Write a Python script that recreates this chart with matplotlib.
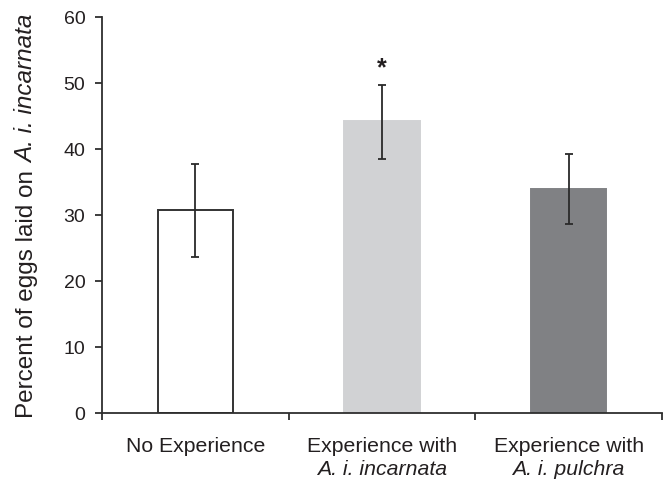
import matplotlib
matplotlib.use("Agg")
import matplotlib.pyplot as plt
import numpy as np

plt.rcParams['font.family'] = ['Liberation Sans', 'DejaVu Sans']

# Category labels: plain first line, italic taxon name on the second line
label_top = ["No Experience", "Experience with", "Experience with"]
label_bottom = ["", "A. i. incarnata", "A. i. pulchra"]
means = [30.8, 44.2, 33.9]
err_low = [23.7, 38.5, 28.7]
err_high = [37.8, 49.7, 39.2]
sig_marks = ["", "*", ""]
y_ticks = [0, 10, 20, 30, 40, 50, 60]
ylabel_plain = "Percent of eggs laid on"
ylabel_italic = "A. i. incarnata"

face_colors = ["white", "#d1d2d4", "#808184"]
edge_colors = ["#333333", "#d1d2d4", "#808184"]
text_color = "#231f20"
axis_color = "#2e2e2e"

fig = plt.figure(figsize=(6.67, 4.81), dpi=100)
ax = fig.add_axes([0.1529, 0.1393, 0.8396, 0.8233])

x = np.arange(len(means))
ax.bar(x, means, width=0.404, color=face_colors, edgecolor=edge_colors,
       linewidth=1.4, zorder=2)
yerr = np.array([np.array(means) - np.array(err_low),
                 np.array(err_high) - np.array(means)])
ax.errorbar(x, means, yerr=yerr, fmt="none", ecolor="#2a2a2a",
            elinewidth=1.3, capsize=3.2, capthick=1.3, zorder=3)

for xi, top, mark in zip(x, err_high, sig_marks):
    if mark:
        ax.text(xi, top + 1.6, mark, ha="center", va="baseline",
                fontsize=18, fontweight="bold", color=text_color)

ax.set_xlim(-0.5, 2.5)
ax.set_ylim(0, 60)
ax.set_yticks(y_ticks)

ax.set_xticks([-0.5, 0.5, 1.5, 2.5])
ax.set_xticklabels([])
ax.tick_params(axis="x", length=5, width=1.3, color=axis_color,
               direction="out")
ax.tick_params(axis="y", length=5, width=1.3, color=axis_color,
               labelsize=14, labelcolor=text_color, pad=7)

for side in ["top", "right"]:
    ax.spines[side].set_visible(False)
for side in ["left", "bottom"]:
    ax.spines[side].set_color(axis_color)
    ax.spines[side].set_linewidth(1.3)

# two-line category labels below the axis
for xi, top_txt, bot_txt in zip(x, label_top, label_bottom):
    ax.annotate(top_txt, xy=(xi, 0), xycoords=("data", "axes fraction"),
                xytext=(0, -27.6), textcoords="offset points",
                ha="center", va="baseline", fontsize=15.3, color=text_color,
                annotation_clip=False)
    if bot_txt:
        ax.annotate(bot_txt, xy=(xi, 0), xycoords=("data", "axes fraction"),
                    xytext=(0, -43.6), textcoords="offset points",
                    ha="center", va="baseline", fontsize=15.3,
                    style="italic", color=text_color,
                    annotation_clip=False)

# y-axis title with an italic taxon name, centred on the axes
renderer = fig.canvas.get_renderer()
fs_y = 17.5
t1 = fig.text(0, 0, ylabel_plain, fontsize=fs_y, color=text_color,
              rotation=90, rotation_mode="anchor", ha="left", va="baseline")
t2 = fig.text(0, 0, ylabel_italic, fontsize=fs_y, color=text_color,
              style="italic", rotation=90, rotation_mode="anchor",
              ha="left", va="baseline")
probe_a = fig.text(0, 0, "a a", fontsize=fs_y)
probe_b = fig.text(0, 0, "aa", fontsize=fs_y)
space_px = (probe_a.get_window_extent(renderer).width
            - probe_b.get_window_extent(renderer).width)
probe_a.remove()
probe_b.remove()
h1 = t1.get_window_extent(renderer).height
h2 = t2.get_window_extent(renderer).height
total = h1 + space_px + h2
fig_w, fig_h = fig.bbox.width, fig.bbox.height
ax_box = ax.get_window_extent(renderer)
center_y = (ax_box.y0 + ax_box.y1) / 2
base_x = 33.0
start_y = center_y - total / 2
t1.set_position((base_x / fig_w, start_y / fig_h))
t2.set_position((base_x / fig_w, (start_y + h1 + space_px) / fig_h))

fig.savefig("out.png", dpi=100)
